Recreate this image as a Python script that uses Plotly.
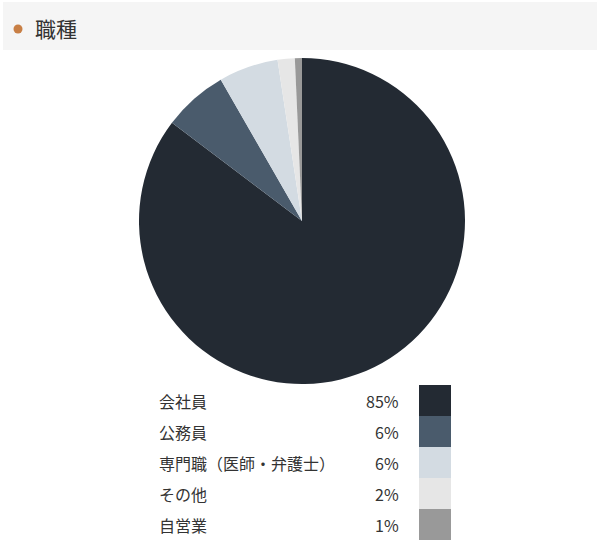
import plotly.graph_objects as go

# データ(職種の構成比、円グラフの角度から読み取り)
labels = ["会社員", "公務員", "専門職（医師・弁護士）", "その他", "自営業"]
values = [85.3, 6.4, 5.9, 1.7, 0.7]
pct_text = ["85%", "6%", "6%", "2%", "1%"]
colors = ["#232a33", "#4a5b6c", "#d3dbe2", "#e6e6e6", "#999999"]

W, H = 600, 545
FONT = "Noto Sans CJK JP"
TEXT = "#333333"


def px(x):
    return x / W


def py(y):
    return 1 - y / H


fig = go.Figure()

fig.add_trace(
    go.Pie(
        labels=labels,
        values=values,
        marker=dict(colors=colors, line=dict(width=0)),
        sort=False,
        direction="clockwise",
        rotation=0,
        textinfo="none",
        hoverinfo="label+percent",
        showlegend=False,
        domain=dict(x=[px(139), px(465)], y=[py(384), py(58)]),
    )
)

shapes = [
    # 見出しの背景帯
    dict(type="rect", xref="paper", yref="paper",
         x0=px(3), x1=px(597), y0=py(50), y1=py(2),
         fillcolor="#f5f5f5", line=dict(width=0), layer="below"),
    # 見出しの丸
    dict(type="circle", xref="paper", yref="paper",
         x0=px(13.5), x1=px(22.5), y0=py(33.5), y1=py(24.5),
         fillcolor="#c87f45", line=dict(width=0)),
]

annotations = [
    dict(text="職種", xref="paper", yref="paper", x=px(33), y=py(28),
         xanchor="left", yanchor="middle", showarrow=False,
         font=dict(family=FONT, size=21, color=TEXT)),
]

# 凡例(表形式)
row_h = 31
top = 385
for i, (lab, pct, col) in enumerate(zip(labels, pct_text, colors)):
    y0 = top + i * row_h
    yc = y0 + row_h / 2
    annotations.append(dict(text=lab, xref="paper", yref="paper", x=px(157), y=py(yc),
                            xanchor="left", yanchor="middle", showarrow=False,
                            font=dict(family=FONT, size=16, color=TEXT)))
    annotations.append(dict(text=pct, xref="paper", yref="paper", x=px(401), y=py(yc),
                            xanchor="right", yanchor="middle", showarrow=False,
                            font=dict(family=FONT, size=16, color=TEXT)))
    shapes.append(dict(type="rect", xref="paper", yref="paper",
                       x0=px(419), x1=px(451), y0=py(y0 + row_h), y1=py(y0),
                       fillcolor=col, line=dict(width=0)))

fig.update_layout(
    width=W,
    height=H,
    margin=dict(l=0, r=0, t=0, b=0),
    paper_bgcolor="#ffffff",
    plot_bgcolor="#ffffff",
    shapes=shapes,
    annotations=annotations,
    font=dict(family=FONT),
)

# ページ余白をなくして 600x545 にぴったり合わせる
fig.write_html(
    "out.html",
    config={"displayModeBar": False},
    post_script="document.body.style.margin='0';document.body.style.overflow='hidden';",
)
